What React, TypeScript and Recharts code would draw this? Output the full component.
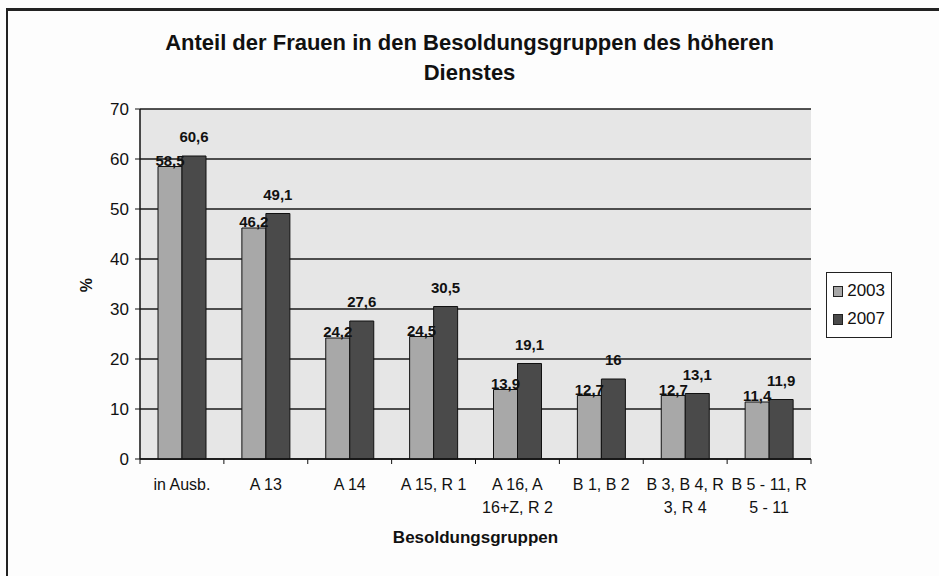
import { BarChart, Bar, XAxis, YAxis, CartesianGrid, Legend, LabelList } from 'recharts';

const categories = [
    'in Ausb.',
    'A 13',
    'A 14',
    'A 15, R 1',
    'A 16, A|16+Z, R 2',
    'B 1, B 2',
    'B 3, B 4, R|3, R 4',
    'B 5 - 11, R|5 - 11',
];
const values2003 = [58.5, 46.2, 24.2, 24.5, 13.9, 12.7, 12.7, 11.4];
const values2007 = [60.6, 49.1, 27.6, 30.5, 19.1, 16, 13.1, 11.9];
const yTicks = [0, 10, 20, 30, 40, 50, 60, 70];

const W = 939;
const H = 576;
const M = { top: 109, right: 128, bottom: 57, left: 0 };
const Y_W = 140;
const X_H = 60;
const STEP = (W - M.left - Y_W - M.right) / categories.length;
const FONT = "'Liberation Sans', Arial, sans-serif";

const data = categories.map((name, i) => ({ name, y2003: values2003[i], y2007: values2007[i] }));

const fmt = (v: number) => String(v).replace('.', ',');

// category ticks sit on the boundaries, like in Excel
const XTick = (props: any) => {
    const { x, y, payload, index } = props;
    const lines = String(payload.value).split('|');
    return (
        <g>
            {index === 0 && <line x1={x - STEP / 2} x2={x - STEP / 2} y1={y} y2={y + 5} stroke="#111" />}
            <line x1={x + STEP / 2} x2={x + STEP / 2} y1={y} y2={y + 5} stroke="#111" />
            <text x={x} y={y + 31} textAnchor="middle" fontSize={16} fill="#111" fontFamily={FONT}>
                {lines.map((l, i) => (
                    <tspan key={i} x={x} dy={i === 0 ? 0 : 23}>{l}</tspan>
                ))}
            </text>
        </g>
    );
};

const makeLabel = (dy: number) => (props: any) => {
    const { x, y, width, value } = props;
    return (
        <text x={x + width / 2} y={y + dy} textAnchor="middle" fontSize={15} fontWeight="bold" fill="#111" fontFamily={FONT}>
            {fmt(value)}
        </text>
    );
};

const LegendBox = () => (
    <div style={{ border: '1.5px solid #222', padding: '4px 6px 4px 6px', fontFamily: FONT, fontSize: 17, color: '#111', background: '#fff', width: 52 }}>
        {[['2003', '#a8a8a8'], ['2007', '#4a4a4a']].map(([t, c]) => (
            <div key={t} style={{ display: 'flex', alignItems: 'center', height: 28 }}>
                <span style={{ width: 9, height: 9, background: c, border: '1px solid #222', marginRight: 4 }} />
                {t}
            </div>
        ))}
    </div>
);

const App = () => {
    return (
        <div style={{ position: 'fixed', left: 0, top: 0, width: W, height: H, overflow: 'hidden', background: '#fdfdfd' }}>
            <div style={{ position: 'absolute', left: 6, top: 8, width: W + 20, height: H + 20, borderLeft: '2px solid #222', borderTop: '3px solid #222' }} />
            <div style={{ position: 'absolute', left: 0, width: W, top: 28, textAlign: 'center', fontFamily: FONT, fontWeight: 'bold', fontSize: 22, lineHeight: '30px', color: '#111' }}>
                Anteil der Frauen in den Besoldungsgruppen des höheren
                <br />
                Dienstes
            </div>
            <div style={{ position: 'absolute', left: 78, top: 275, width: 20, height: 20, transform: 'rotate(-90deg)', textAlign: 'center', fontFamily: FONT, fontWeight: 'bold', fontSize: 16, color: '#111' }}>
                %
            </div>
            <div style={{ position: 'absolute', left: 140, width: 671, top: 528, textAlign: 'center', fontFamily: FONT, fontWeight: 'bold', fontSize: 17, color: '#111' }}>
                Besoldungsgruppen
            </div>
            <div style={{ position: 'absolute', left: 0, top: 0 }}>
                <BarChart width={W} height={H} data={data} margin={M} barGap={0} barSize={24}>
                    <CartesianGrid vertical={false} stroke="#1a1a1a" strokeWidth={1.5} fill="#e6e6e6" />
                    <XAxis
                        dataKey="name"
                        height={X_H}
                        tick={<XTick />}
                        tickLine={false}
                        tickSize={0}
                        tickMargin={0}
                        axisLine={{ stroke: '#111', strokeWidth: 1.5 }}
                        interval={0}
                    />
                    <YAxis
                        width={Y_W}
                        domain={[0, 70]}
                        ticks={yTicks}
                        interval={0}
                        tickSize={5}
                        tickMargin={6}
                        axisLine={{ stroke: '#111', strokeWidth: 1.5 }}
                        tickLine={{ stroke: '#111' }}
                        tick={{ fontSize: 17, fill: '#111', fontFamily: FONT }}
                    />
                    <Legend
                        layout="vertical"
                        align="center"
                        verticalAlign="middle"
                        content={<LegendBox />}
                        wrapperStyle={{ left: 826, top: 272, width: 66 }}
                    />
                    <Bar dataKey="y2003" name="2003" fill="#a8a8a8" stroke="#111" strokeWidth={1} isAnimationActive={false}>
                        <LabelList dataKey="y2003" content={makeLabel(-1)} />
                    </Bar>
                    <Bar dataKey="y2007" name="2007" fill="#4a4a4a" stroke="#111" strokeWidth={1} isAnimationActive={false}>
                        <LabelList dataKey="y2007" content={makeLabel(-14)} />
                    </Bar>
                </BarChart>
            </div>
        </div>
    );
};

export default App;
